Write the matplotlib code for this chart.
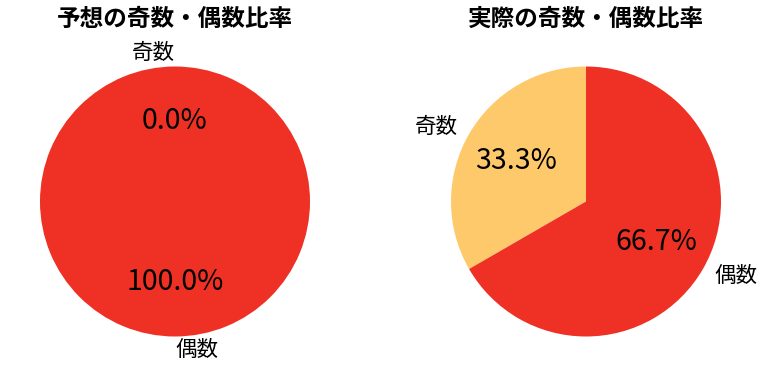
import matplotlib
matplotlib.use("Agg")
import matplotlib.pyplot as plt

plt.rcParams['font.family'] = ['Noto Sans CJK JP', 'DejaVu Sans']

labels = ['奇数', '偶数']
predicted = [0, 1]
actual = [1, 2]
titles = ['予想の奇数・偶数比率', '実際の奇数・偶数比率']
colors = ['#FDC96B', '#EE3124']

W, H = 766, 377
fig = plt.figure(figsize=(W / 100, H / 100), dpi=100)
r = 135
size = 2.5 * r
centers = [(175, 201.5), (586, 201.5)]
for (cx, cy), vals, title in zip(centers, [predicted, actual], titles):
    ax = fig.add_axes([(cx - size / 2) / W, (H - cy - size / 2) / H, size / W, size / H])
    wedges, texts, autotexts = ax.pie(vals, labels=labels, colors=colors, autopct='%1.1f%%',
                                      startangle=90, counterclock=True,
                                      pctdistance=0.6, labeldistance=1.1,
                                      textprops={'fontsize': 15.5})
    for t in autotexts:
        t.set_fontsize(20.5)
    ax.set_aspect('equal')
    fig.text(cx / W, 1 - 19 / H, title, fontsize=17, fontweight='bold', ha='center', va='center')

fig.savefig('out.png', dpi=100)
